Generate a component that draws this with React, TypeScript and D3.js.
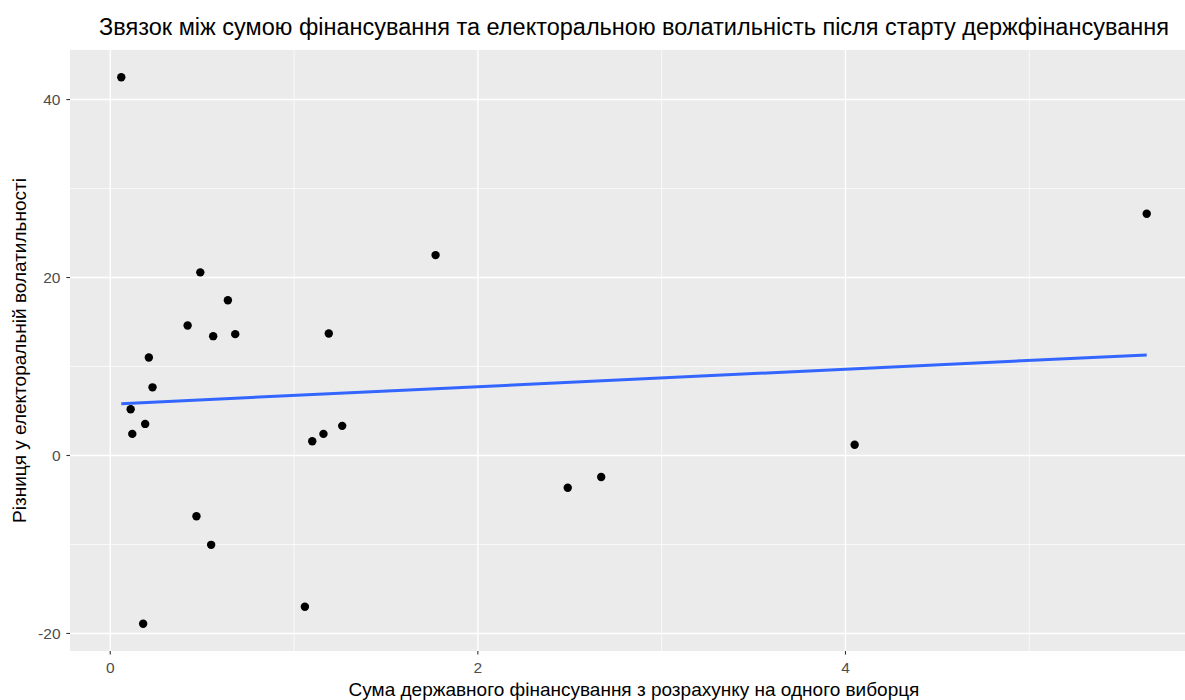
import React from "react";
import * as d3 from "d3";

// funding per voter (x) and change in electoral volatility (y)
const fundingPerVoter = [
  0.06, 0.64, 0.421, 0.56, 0.68, 0.21, 0.23, 0.111, 0.19, 0.12, 1.189, 1.099,
  1.16, 1.262, 0.49, 0.469, 0.549, 0.179, 1.059, 1.77, 2.489, 2.671, 4.05, 5.639,
];
const volatilityDiff = [
  42.5, 17.45, 14.61, 13.41, 13.64, 11.02, 7.66, 5.2, 3.55, 2.43, 13.71, 1.61,
  2.43, 3.33, 20.58, -6.83, -10.04, -18.9, -16.99, 22.52, -3.62, -2.42, 1.2, 27.16,
];

const xMajor = [0, 2, 4];
const xMinor = [1, 3, 5];
const yMajor = [-20, 0, 20, 40];
const yMinor = [-10, 10, 30];

const title =
  "Звязок між сумою фінансування та електоральною волатильність після старту держфінансування";
const xTitle = "Сума державного фінансування з розрахунку на одного виборця";
const yTitle = "Різниця у електоральній волатильності";

const W = 1185;
const H = 700;
const panel = { left: 70, right: 1198, top: 50, bottom: 651 };
const font = "'Liberation Sans', Arial, sans-serif";

const expand = (ext: [number, number]): [number, number] => {
  const pad = (ext[1] - ext[0]) * 0.05;
  return [ext[0] - pad, ext[1] + pad];
};

export default function App() {
  const data = fundingPerVoter.map((x, i) => ({ x, y: volatilityDiff[i] }));

  const xExt = d3.extent(fundingPerVoter) as [number, number];
  const yExt = d3.extent(volatilityDiff) as [number, number];

  const x = d3.scaleLinear().domain(expand(xExt)).range([panel.left, panel.right]);
  const y = d3.scaleLinear().domain(expand(yExt)).range([panel.bottom, panel.top]);

  // least squares fit (geom_smooth method = "lm", se = FALSE)
  const mx = d3.mean(fundingPerVoter)!;
  const my = d3.mean(volatilityDiff)!;
  const sxy = d3.sum(data, (d) => (d.x - mx) * (d.y - my));
  const sxx = d3.sum(data, (d) => (d.x - mx) ** 2);
  const slope = sxy / sxx;
  const intercept = my - slope * mx;
  const fit = xExt.map((v) => ({ x: v, y: intercept + slope * v }));
  const line = d3
    .line<{ x: number; y: number }>()
    .x((d) => x(d.x))
    .y((d) => y(d.y));

  const cx = (panel.left + panel.right) / 2;
  const cy = (panel.top + panel.bottom) / 2;

  return (
    <>
      <style>{"body{margin:0;overflow:hidden}"}</style>
      <svg width={W} height={H} style={{ display: "block", background: "#fff" }} fontFamily={font}>
        <rect
          x={panel.left}
          y={panel.top}
          width={panel.right - panel.left}
          height={panel.bottom - panel.top}
          fill="#EBEBEB"
        />
        {yMinor.map((v) => (
          <line key={"ym" + v} x1={panel.left} x2={panel.right} y1={y(v)} y2={y(v)} stroke="#fff" strokeWidth={0.7} />
        ))}
        {xMinor.map((v) => (
          <line key={"xm" + v} x1={x(v)} x2={x(v)} y1={panel.top} y2={panel.bottom} stroke="#fff" strokeWidth={0.7} />
        ))}
        {yMajor.map((v) => (
          <line key={"yM" + v} x1={panel.left} x2={panel.right} y1={y(v)} y2={y(v)} stroke="#fff" strokeWidth={1.4} />
        ))}
        {xMajor.map((v) => (
          <line key={"xM" + v} x1={x(v)} x2={x(v)} y1={panel.top} y2={panel.bottom} stroke="#fff" strokeWidth={1.4} />
        ))}

        {data.map((d, i) => (
          <circle key={i} cx={x(d.x)} cy={y(d.y)} r={4.2} fill="#000" />
        ))}
        <path d={line(fit)!} fill="none" stroke="#3366FF" strokeWidth={3} />

        {/* axes */}
        {yMajor.map((v) => (
          <g key={"yt" + v}>
            <line x1={panel.left - 3.6} x2={panel.left} y1={y(v)} y2={y(v)} stroke="#333" strokeWidth={1.1} />
            <text x={panel.left - 9.5} y={y(v)} dy="0.36em" textAnchor="end" fontSize={15.5} fill="#4D4D4D">
              {v}
            </text>
          </g>
        ))}
        {xMajor.map((v) => (
          <g key={"xt" + v}>
            <line x1={x(v)} x2={x(v)} y1={panel.bottom} y2={panel.bottom + 3.6} stroke="#333" strokeWidth={1.1} />
            <text x={x(v)} y={panel.bottom + 22} textAnchor="middle" fontSize={15.5} fill="#4D4D4D">
              {v}
            </text>
          </g>
        ))}

        <text x={cx} y={35} textAnchor="middle" fontSize={23.5} fill="#000">
          {title}
        </text>
        <text x={cx} y={696} textAnchor="middle" fontSize={19} fill="#000">
          {xTitle}
        </text>
        <text
          transform={`translate(26,${cy}) rotate(-90)`}
          textAnchor="middle"
          fontSize={19}
          fill="#000"
        >
          {yTitle}
        </text>
      </svg>
    </>
  );
}
